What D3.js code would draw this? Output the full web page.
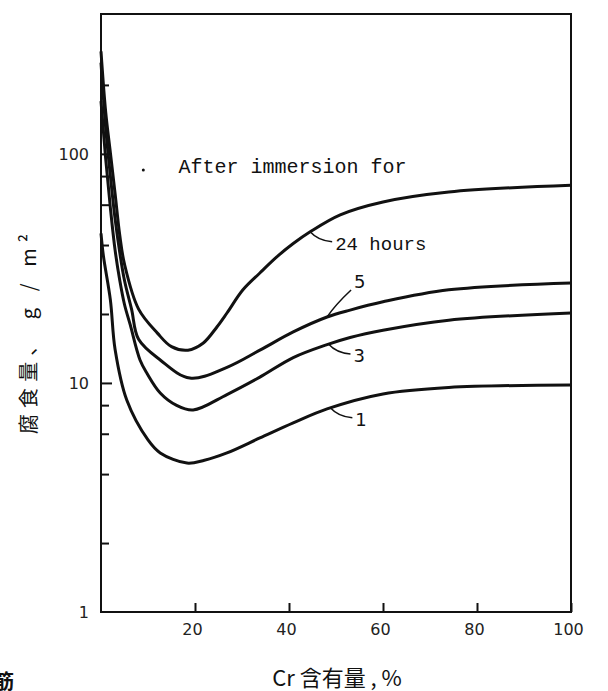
<!DOCTYPE html>
<html>
<head>
<meta charset="utf-8">
<script src="https://cdn.jsdelivr.net/npm/d3@7"></script>
<style>
  body { margin: 0; background: #fff; }
  svg { display: block; }
</style>
</head>
<body>
<svg id="chart" width="608" height="691"></svg>
<script>
// --- data (Cr content %, corrosion loss g/m2) ---
var crContent24 = [0, 1, 2, 3, 4, 5, 8, 12, 15, 18.5, 21.7, 24.7, 26.8, 30.2, 33.8, 37.4, 40.9, 44.5, 50.9, 60, 74, 100];
var loss24      = [280, 152, 101, 67, 44, 33, 21, 16.5, 14.4, 13.9, 14.9, 17.6, 20.2, 25.5, 30.2, 35.5, 40.6, 45.7, 54.2, 61.7, 68.2, 73];

var crContent5 = [0, 1, 2, 3, 4, 5, 6.5, 8, 12.6, 18.9, 26.8, 33.8, 40.9, 48.1, 53, 60, 74, 100];
var loss5      = [250, 130, 80, 52, 37, 28, 21, 15.5, 12.6, 10.5, 11.7, 13.9, 16.7, 19.4, 20.8, 22.6, 25.5, 27.3];

var crContent3 = [0, 1, 2, 3, 4, 5, 6.2, 8.3, 9.8, 12.6, 16, 19.6, 26.8, 33.8, 40.9, 48.1, 53, 60, 74, 100];
var loss3      = [170, 95, 58, 38, 28, 22, 18, 12.6, 11, 9.04, 8.0, 7.62, 8.9, 10.6, 12.9, 14.7, 15.8, 17.0, 18.8, 20.2];

var crContent1 = [0, 0.5, 2, 3, 5.5, 10, 12.6, 18.3, 22, 26.8, 33.8, 40.9, 48.1, 60, 74, 100];
var loss1      = [45, 36, 23, 14, 8.4, 5.64, 4.95, 4.47, 4.6, 4.95, 5.75, 6.69, 7.7, 8.95, 9.55, 9.8];

var xTicks = [20, 40, 60, 80, 100];
var yTicks = [1, 2, 4, 6, 8, 10, 20, 40, 60, 80, 100, 200];
var yLabelled = [1, 10, 100];

// curve labels: anchor on the curve (data coords) and the label text
var curveLabels = [
  { text: "24 hours", x: 44.5, v: 45.7 },
  { text: "5",        x: 48.1, v: 19.4 },
  { text: "3",        x: 48.4, v: 14.8 },
  { text: "1",        x: 48.8, v: 7.8 }
];

// --- layout ---
var svg = d3.select("#chart");
var plotLeft = 101, plotRight = 571, plotTop = 14, plotBottom = 612;

var x = d3.scaleLinear().domain([0, 100]).range([plotLeft, plotRight]);
var y = d3.scaleLog().domain([1, 408]).range([plotBottom, plotTop]);

svg.append("rect").attr("width", 608).attr("height", 691).attr("fill", "#fff");

// frame
svg.append("rect")
  .attr("x", plotLeft).attr("y", plotTop)
  .attr("width", plotRight - plotLeft).attr("height", plotBottom - plotTop)
  .attr("fill", "none").attr("stroke", "#111").attr("stroke-width", 2);

// x axis (ticks point inward)
var xAxis = svg.append("g")
  .attr("transform", "translate(0," + plotBottom + ")")
  .call(d3.axisBottom(x).tickValues(xTicks).tickSizeInner(-9).tickSizeOuter(0).tickPadding(12));
xAxis.select(".domain").remove();
xAxis.selectAll("line").attr("stroke", "#111").attr("stroke-width", 2);
xAxis.selectAll("text")
  .attr("font-family", "DejaVu Sans, sans-serif").attr("font-size", 16).attr("fill", "#222")
  .attr("dx", -3);

// y axis (log)
var yAxis = svg.append("g")
  .attr("transform", "translate(" + plotLeft + ",0)")
  .call(d3.axisLeft(y).tickValues(yTicks).tickSizeInner(-8).tickSizeOuter(0).tickPadding(12)
    .tickFormat(function(d) { return yLabelled.indexOf(d) >= 0 ? d3.format("d")(d) : ""; }));
yAxis.select(".domain").remove();
yAxis.selectAll("line").attr("stroke", "#111").attr("stroke-width", 2)
  .attr("x2", function(d) { return d === 1 ? 0 : (d === 10 || d === 100 ? 11 : 8); });
yAxis.selectAll("text")
  .attr("font-family", "DejaVu Sans, sans-serif").attr("font-size", 16).attr("fill", "#222");

// curves (smooth spline through the read-off points)
var line = d3.line()
  .x(function(d) { return x(d[0]); })
  .y(function(d) { return y(d[1]); })
  .curve(d3.curveCatmullRom.alpha(0.5));

[[crContent24, loss24], [crContent5, loss5], [crContent3, loss3], [crContent1, loss1]].forEach(function(s) {
  var pts = s[0].map(function(c, i) { return [c, s[1][i]]; });
  svg.append("path")
    .attr("d", line(pts))
    .attr("fill", "none")
    .attr("stroke", "#111")
    .attr("stroke-width", 3)
    .attr("stroke-linejoin", "round");
});

// curve labels with leader lines
curveLabels.forEach(function(l) {
  var px = x(l.x), py = y(l.v);
  var up = l.text === "5";
  var ex = px + (up ? 24 : 22), ey = py + (up ? -27 : 10);
  svg.append("path")
    .attr("d", "M" + px + "," + py + "Q" + (px + 8) + "," + (up ? py - 12 : py + 9) + " " + ex + "," + ey)
    .attr("fill", "none").attr("stroke", "#111").attr("stroke-width", 1.5);
  svg.append("text")
    .attr("x", ex + 3)
    .attr("y", up ? ey - 2 : ey + 8)
    .attr("font-family", l.text.length > 1 ? "Liberation Mono, Courier New, monospace" : "DejaVu Sans, sans-serif")
    .attr("font-size", l.text.length > 1 ? 19 : 18)
    .attr("fill", "#111")
    .text(l.text);
});

// title inside plot
svg.append("text")
  .attr("x", x(16.5)).attr("y", y(100) + 19)
  .attr("font-family", "Liberation Mono, Courier New, monospace")
  .attr("font-size", 20).attr("fill", "#111")
  .text("After immersion for");
svg.append("circle")
  .attr("cx", x(9)).attr("cy", y(100) + 16).attr("r", 1.5).attr("fill", "#111");

// axis titles
svg.append("text")
  .attr("x", 337).attr("y", 686)
  .attr("text-anchor", "middle")
  .attr("font-family", "Noto Sans CJK JP, sans-serif")
  .attr("font-size", 22).attr("fill", "#111")
  .text("Cr 含有量 , %");

svg.append("text")
  .attr("transform", "translate(36,334) rotate(-90)")
  .attr("text-anchor", "middle")
  .attr("font-family", "Noto Sans CJK JP, sans-serif")
  .attr("font-size", 20).attr("fill", "#111")
  .attr("textLength", 200).attr("lengthAdjust", "spacing")
  .text("腐食量、 g / m²");

// clipped character at bottom-left edge of the scan
svg.append("text")
  .attr("x", -6).attr("y", 689)
  .attr("font-family", "Noto Sans CJK JP, sans-serif")
  .attr("font-size", 20).attr("font-weight", "bold").attr("fill", "#111")
  .text("筋");
</script>
</body>
</html>
